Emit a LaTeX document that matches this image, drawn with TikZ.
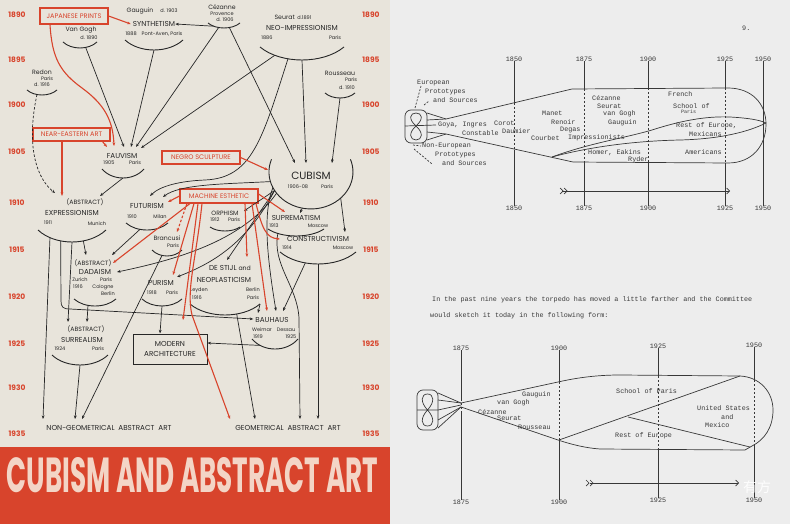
\documentclass[tikz,border=0pt]{standalone}
\usepackage{fontspec}
\usepackage{graphicx}
\setmainfont{Poppins}
\newfontfamily\typefont{Liberation Mono}
\newfontfamily\cjkfont{Noto Sans CJK SC}
\usetikzlibrary{arrows.meta}

\definecolor{paper}{HTML}{E8E4DB}
\definecolor{barrred}{HTML}{D8442C}
\definecolor{ink}{HTML}{262626}
\definecolor{sheet}{HTML}{EDEDED}
\definecolor{typeink}{HTML}{383838}
\definecolor{bannertext}{HTML}{F3D5C6}

\newcommand\fs[1]{\fontsize{#1}{#1}\selectfont}

\tikzset{
  year/.style={text=barrred, font=\fs{7.5}\bfseries, inner sep=0pt},
  mov/.style={text=ink, font=\fs{7.2}, inner sep=0pt},
  small/.style={text=ink, font=\fs{6.2}, inner sep=0pt},
  artist/.style={text=ink, font=\fs{6.2}, inner sep=0pt},
  note/.style={text=ink, font=\fs{5}, inner sep=0pt},
  source/.style={draw=barrred, line width=1.1pt, text=barrred, font=\fs{6.6}, inner sep=0pt},
  bowlline/.style={ink, line width=0.9pt},
  link/.style={ink, line width=0.7pt, ->},
  redlink/.style={barrred, line width=1.1pt, ->},
  tw/.style={text=typeink, font=\typefont\fs{6.75}, inner sep=0pt, anchor=west},
  twc/.style={tw, anchor=center},
  hull/.style={typeink, line width=0.7pt},
  yearline/.style={typeink, line width=0.6pt},
  inside/.style={yearline, dash pattern=on 2pt off 2pt},
}

% bowl under a movement: name, centre x, top y, half width, depth
\newcommand\bowl[5]{%
  \draw[bowlline] (#2-#4,#3) .. controls (#2-#4*0.5,#3+#5*1.333) and (#2+#4*0.5,#3+#5*1.333) .. (#2+#4,#3)
    coordinate[pos=0.2] (#1-1) coordinate[pos=0.35] (#1-2) coordinate[pos=0.5] (#1-3)
    coordinate[pos=0.65] (#1-4) coordinate[pos=0.8] (#1-5);
  \coordinate (#1-l) at (#2-#4,#3);
  \coordinate (#1-r) at (#2+#4,#3);
}

\begin{document}
\begin{tikzpicture}[x=1pt,y=-1pt,>={Stealth[length=3.6pt,width=2.8pt]}]
\useasboundingbox (0,0) rectangle (790,524);
\fill[paper] (0,0) rectangle (390,447);
\fill[barrred] (0,447) rectangle (390,524);
\fill[sheet] (390,0) rectangle (790,524);
\node[inner sep=0pt, text=bannertext] (banner) at (192.5,475.5)
  {\resizebox{371pt}{35pt}{\bfseries CUBISM AND ABSTRACT ART}};

% years
\foreach \yr/\yy in {1890/15,1895/60,1900/105,1905/152,1910/203,1915/250,1920/297,1925/344,1930/388,1935/434}{
  \node[year] (yl\yr) at (17,\yy) {\yr};
  \node[year] (yr\yr) at (371,\yy) {\yr};
}

% sources
\node[source, minimum width=68pt, minimum height=16pt] (jap) at (74,16) {JAPANESE PRINTS};
\node[source, minimum width=77pt, minimum height=13pt] (near) at (71.5,134.5) {NEAR-EASTERN ART};
\node[source, minimum width=78pt, minimum height=13pt] (negro) at (201,157.5) {NEGRO SCULPTURE};
\node[source, minimum width=78pt, minimum height=14pt] (mach) at (219,196) {MACHINE ESTHETIC};

% 1890s
\node[artist] (gau) at (140,11) {Gauguin};
\node[note] (gaud) at (169,11) {d. 1903};
\node[mov] (syn) at (154,24) {SYNTHETISM};
\node[note] (synd) at (154,34) {1888\quad Pont-Aven, Paris};
\bowl{syn}{154}{40}{29}{10}
\node[artist] (vg) at (81,30) {Van Gogh};
\node[note] (vgd) at (89,38) {d. 1890};
\bowl{vg}{80}{42}{17}{6}
\node[artist] (cez) at (222,7) {Cézanne};
\node[note] (cezp) at (222,14) {Provence};
\node[note] (cezd) at (225,19.5) {d. 1906};
\bowl{cez}{224}{23}{16}{5}
\node[artist] (seu) at (293,17) {Seurat \,{\fs{5}d.1891}};
\node[mov] (neo) at (302,28) {NEO-IMPRESSIONISM};
\node[note] (neod) at (267,38) {1886};
\node[note] (neop) at (335,38) {Paris};
\bowl{neo}{302}{47}{42}{13}
\node[artist] (rou) at (340,73) {Rousseau};
\node[note] (roup) at (351,80) {Paris};
\node[note] (roud) at (347,88) {d. 1910};
\bowl{rou}{340}{93}{15}{5}
\node[artist] (red) at (42,72) {Redon};
\node[note] (redp) at (47,79) {Paris};
\node[note] (redd) at (42,85) {d. 1916};
\bowl{red}{42}{90}{15}{5}

% 1905-1915
\node[mov] (fauv) at (122,156) {FAUVISM};
\node[note] (fauvd) at (109,163) {1905};
\node[note] (fauvp) at (135,163) {Paris};
\bowl{fauv}{123}{169}{21}{9}
\node[mov, font=\fs{10.5}] (cub) at (311,176) {CUBISM};
\node[note] (cubd) at (298,187) {1906-08};
\node[note] (cubp) at (327,187) {Paris};
\draw[bowlline] (271.5,159.3) arc[start angle=200, end angle=-20, x radius=42, y radius=37];
\coordinate (cub-a) at (270.4,181.6);
\coordinate (cub-b) at (272.9,187.6);
\coordinate (cub-c) at (274.6,190.5);
\coordinate (cub-d) at (276.6,193.2);
\coordinate (cub-e) at (302.3,208.2);
\coordinate (cub-f) at (340.7,198.2);
\node[mov] (fut) at (147,206) {FUTURISM};
\node[note] (futd) at (132,217) {1910};
\node[note] (futp) at (160,217) {Milan};
\bowl{fut}{147}{223}{21}{7}
\node[small] (abs1) at (85,202) {(ABSTRACT)};
\node[mov] (expr) at (72,213) {EXPRESSIONISM};
\node[note] (exprd) at (48,223) {1911};
\node[note] (exprp) at (97,224) {Munich};
\bowl{expr}{72}{230}{34}{12}
\node[small] (orph) at (225,213) {ORPHISM};
\node[note] (orphd) at (215,220) {1912};
\node[note] (orphp) at (234,220) {Paris};
\bowl{orph}{225}{227}{15}{4}
\node[mov] (sup) at (296,218) {SUPREMATISM};
\node[note] (supd) at (274,226) {1913};
\node[note] (supp) at (318,226) {Moscow};
\bowl{sup}{296}{229}{28}{7}
\node[mov] (con) at (318,239) {CONSTRUCTIVISM};
\node[note] (cond) at (287,248) {1914};
\node[note] (conp) at (343,248) {Moscow};
\bowl{con}{318}{252}{38}{12}
\node[artist] (bran) at (167,238) {Brancusi};
\node[note] (branp) at (173,246) {Paris};
\bowl{bran}{167}{250}{15}{6}

% 1915-1925
\node[small] (abs2) at (93,263) {(ABSTRACT)};
\node[mov] (dada) at (95,272) {DADAISM};
\node[note] (dadaz) at (80,280) {Zurich};
\node[note] (dadap) at (106,280) {Paris};
\node[note] (dadad) at (78,287) {1916};
\node[note] (dadac) at (103,287) {Cologne};
\node[note] (dadab) at (108,294) {Berlin};
\bowl{dada}{95}{299}{21}{7}
\node[mov] (pur) at (161,283) {PURISM};
\node[note] (purd) at (152,293) {1918};
\node[note] (purp) at (172,293) {Paris};
\bowl{pur}{162}{299}{20}{7}
\node[mov] (dsa) at (230,268) {DE STIJL {\fs{6.2}and}};
\node[mov] (ds) at (224,280) {NEOPLASTICISM};
\node[note] (dsl) at (199,290) {Leyden};
\node[note] (dsd) at (197,298) {1916};
\node[note] (dsb) at (253,290) {Berlin};
\node[note] (dsp) at (253,298) {Paris};
\bowl{ds}{225}{304}{35}{11}
\node[mov] (bau) at (272,320) {BAUHAUS};
\node[note] (bauw) at (262,330) {Weimar};
\node[note] (baud) at (286,330) {Dessau};
\node[note] (bau1) at (258,337) {1919};
\node[note] (bau2) at (291,337) {1925};
\bowl{bau}{275}{339}{23}{10}
\node[draw=ink, line width=1pt, minimum width=74pt, minimum height=30pt, align=center,
  text=ink, font=\fs{7.2}, inner sep=0pt] (mod) at (170,349) {MODERN\\[2pt]ARCHITECTURE};
\node[small] (abs3) at (86,329) {(ABSTRACT)};
\node[mov] (sur) at (82,340) {SURREALISM};
\node[note] (surd) at (60,349) {1924};
\node[note] (surp) at (98,349) {Paris};
\bowl{sur}{80}{355}{28}{10}
\node[mov] (ng) at (109,428) {NON-GEOMETRICAL\ \ ABSTRACT\ \ ART};
\node[mov] (ga) at (288,428) {GEOMETRICAL\ \ ABSTRACT\ \ ART};

% black influences
\draw[link] (cez-1) -- (syn.east);
\draw[link] (vg-4) -- ([shift={(2,-9)}]fauv.center);
\draw[link] (syn-3) -- ([shift={(9,-9)}]fauv.center);
\draw[link] (cez-2) -- ([shift={(14,-9)}]fauv.center);
\draw[link] (neo-1) -- ([shift={(19,-8)}]fauv.center);
\draw[link] (cez-4) -- ([shift={(-16,-13)}]cub.center);
\draw[link] (neo-3) -- ([shift={(-5,-13)}]cub.center);
\draw[link] (rou-3) -- ([shift={(21,-13)}]cub.center);
\draw[link] (neo-2) .. controls (262,140) and (252,178) .. (205,180) .. controls (180,181) and (160,186) .. ([shift={(3,-10)}]fut.center);
\draw[link] (cub-a) .. controls (225,184) and (180,184) .. ([shift={(16,-9)}]fut.center);
\draw[link, dash pattern=on 2.5pt off 1.8pt] (red-2) .. controls (26,145) and (36,178) .. ([shift={(-30,-9)}]abs1.center);
\draw[link] (fauv-3) -- ([shift={(15,-6)}]abs1.center);
\draw[link] (cub-c) -- ([shift={(19,-2)}]orph.center);
\draw[link] (cub-e) -- ([shift={(4,-5)}]sup.center);
\draw[link] (cub-f) -- ([shift={(27,-7)}]con.center);
\draw[link] (cub-d) .. controls (245,238) and (185,258) .. ([shift={(22,0)}]dada.center);
\draw[link] (cub-c) .. controls (245,248) and (205,266) .. ([shift={(16,-6)}]pur.center);
\draw[link] (cub-c) -- ([shift={(-3,-8)}]dsa.center);
\draw[link] (cub-b) .. controls (262,215) and (268,262) .. ([shift={(4,-9)}]bau.center);
\draw[link] (fut-2) -- ([shift={(19,-8)}]abs2.center);
\draw[link] (expr-4) -- ([shift={(-7,-8)}]abs2.center);
\draw[link] (expr-3) -- ([shift={(-18,-7)}]abs3.center);
\draw[link] (expr-2) -- (61,301) .. controls (61,307) and (63,309) .. (70,309) -- ([shift={(-2,-1)}]bau.west);
\draw[link] (expr-1) -- ([shift={(-66,-9)}]ng.center);
\draw[link] (dada-2) -- ([shift={(1,-7)}]abs3.center);
\draw[link] (sur-3) -- ([shift={(-34,-9)}]ng.center);
\draw[link] (bran-2) -- ([shift={(-27,-9)}]ng.center);
\draw[link] (pur-3) -- ([xshift=-10pt]mod.north);
\draw[link] (ds-r) -- ([shift={(-14,-7)}]bau.center);
\draw[link] (ds-4) -- ([shift={(-33,-9)}]ga.center);
\draw[link] (bau-1) -- ([yshift=6pt]mod.east);
\draw[link] (con-2) -- ([shift={(11,-9)}]bau.center);
\draw[link] (con-3) -- ([shift={(30,-9)}]ga.center);
\draw[link] (sup-1) .. controls (272,265) and (297,285) .. (299,318) -- ([shift={(12,-9)}]ga.center);

% red influences
\draw[redlink] (jap.east) -- ([xshift=-2pt]syn.west);
\draw[redlink] ([xshift=-24pt]jap.south) .. controls (52,58) and (60,72) .. (82,88) .. controls (104,104) and (113,120) .. ([shift={(-8,-10)}]fauv.center);
\draw[redlink] ([xshift=-9.5pt]near.south) -- ([shift={(-23,-6)}]abs1.center);
\draw[redlink] ([xshift=31pt]near.south) -- ([shift={(-15,-9)}]fauv.center);
\draw[redlink] (negro.east) -- ([shift={(-43,-6)}]cub.center);
\draw[redlink] (mach.west) -- ([shift={(21,-4)}]fut.center);
\draw[redlink, dash pattern=on 2.5pt off 1.8pt] ([xshift=-32pt]mach.south) -- ([shift={(10,-6)}]bran.center);
\draw[redlink] ([xshift=-29pt]mach.south) -- ([shift={(20,0)}]abs2.center);
\draw[redlink] ([xshift=-25pt]mach.south) -- ([shift={(12,-8)}]pur.center);
\draw[redlink] ([xshift=-21pt]mach.south) -- ([shift={(13,-29)}]mod.center);
\draw[redlink] ([xshift=-17pt]mach.south) .. controls (196,260) and (186,290) .. (192,315) -- ([shift={(-58,-9)}]ga.center);
\draw[redlink] ([xshift=26pt]mach.south) -- ([shift={(17,-11)}]dsa.center);
\draw[redlink] ([xshift=33pt]mach.south) -- ([shift={(-5,-9)}]bau.center);
\draw[redlink] ([yshift=2pt]mach.east) -- ([shift={(-11,-6)}]sup.center);
\draw[redlink] ([xshift=37pt]mach.south) .. controls (262,228) and (266,238) .. ([shift={(-38,0)}]con.center);

% ---- typed page: first torpedo ----
\node[tw] (pg) at (742,28) {9.};
\foreach \yx/\yv in {514/1850,584/1875,648/1900,725/1925,763/1950}{
  \node[twc] (tt\yv) at (\yx,59) {\yv};
  \node[twc] (tb\yv) at (\yx,208) {\yv};
}
\foreach \yx/\yv/\ya/\yb in {514/1850/103/150,584/1875/89/162,648/1900/88/163,725/1925/88/163}{
  \draw[yearline] (tt\yv.south) -- (\yx,\ya) (\yx,\yb) -- (tb\yv.north);
  \draw[inside] (\yx,\ya) -- (\yx,\yb);
}
\draw[yearline] (tt1950.south) -- (tb1950.north);
\draw[hull,rounded corners=6pt] (405,110) rectangle (427,143);
\draw[hull] (416,126) .. controls (408,119) and (410,113) .. (416,113) .. controls (422,113) and (424,119) .. (416,126)
  .. controls (408,133) and (410,140) .. (416,140) .. controls (422,140) and (424,133) .. (416,126);
\draw[hull] (405,126) -- (436,125);
\draw[hull] (427,113) -- (446,119) -- (572,89) -- (728,88) .. controls (752,88) and (766,104) .. (766,124)
  .. controls (766,146) and (752,163) .. (728,163) -- (573,162) -- (446,134) -- (427,140);
\draw[hull] (427,120) -- (446,119) (427,132) -- (446,134);
\draw[hull] (552,157) .. controls (590,143) and (625,138) .. (652,130) .. controls (680,121) and (705,116) .. (730,117) .. controls (748,118) and (760,120) .. (766,123);
\draw[hull] (552,157) .. controls (585,148) and (630,141) .. (680,140) .. controls (720,139) and (748,132) .. (766,123);
\draw[hull, dash pattern=on 2pt off 1.5pt] (415,108) -- (421,86) (424,105) -- (429,101);
\draw[hull, dash pattern=on 2pt off 1.5pt] (413,145) -- (421,146) (414,149) -- (432,164);
\draw[hull,-{Straight Barb[length=3pt,width=6pt]}] (562,191) -- (730,191);
\draw[hull] (560,188) -- (563,191) -- (560,194) (564,188) -- (567,191) -- (564,194);
\node[tw] (t1) at (417,83) {European};
\node[tw] (t2) at (425,92) {Prototypes};
\node[tw] (t3) at (433,100) {and Sources};
\node[tw] (t4) at (422,146) {Non-European};
\node[tw] (t5) at (435,155) {Prototypes};
\node[tw] (t6) at (442,163) {and Sources};
\node[tw] (t7) at (438,125) {Goya, Ingres};
\node[tw] (t8) at (462,133) {Constable};
\node[tw] (t9) at (494,123) {Corot};
\node[tw] (t10) at (502,131) {Daumier};
\node[tw] (t11) at (542,113) {Manet};
\node[tw] (t12) at (551,122) {Renoir};
\node[tw] (t13) at (560,130) {Degas};
\node[tw] (t14) at (531,138) {Courbet};
\node[tw] (t15) at (568,138) {Impressionists};
\node[tw] (t16) at (588,153) {Homer, Eakins};
\node[tw] (t17) at (628,160) {Ryder};
\node[tw] (t18) at (592,98) {Cézanne};
\node[tw] (t19) at (597,106) {Seurat};
\node[tw] (t20) at (603,114) {van Gogh};
\node[tw] (t21) at (608,123) {Gauguin};
\node[tw] (t22) at (668,94) {French};
\node[tw] (t23) at (673,106) {School of};
\node[tw, font=\typefont\fs{5}] (t24) at (681,112) {Paris};
\node[tw] (t25) at (676,126) {Rest of Europe,};
\node[tw] (t26) at (689,134) {Mexicans};
\node[tw] (t27) at (685,152) {Americans};

\node[tw] (p1) at (432,300) {In the past nine years the torpedo has moved a little farther and the Committee};
\node[tw] (p2) at (430,316) {would sketch it today in the following form:};

% ---- typed page: second torpedo ----
\foreach \yx/\yv/\ya/\yb in {461/1875/348/502,559/1900/348/502,658/1925/346/500,754/1950/345/500}{
  \node[twc] (bt\yv) at (\yx,\ya) {\yv};
  \node[twc] (bb\yv) at (\yx,\yb) {\yv};
}
\foreach \yx/\yv/\ya/\yb in {461/1875/399/411,559/1900/382/440,658/1925/376/449,754/1950/380/445}{
  \draw[yearline] (bt\yv.south) -- (\yx,\ya) (\yx,\yb) -- (bb\yv.north);
  \draw[inside] (\yx,\ya) -- (\yx,\yb);
}
\draw[hull,rounded corners=6pt] (417,390) rectangle (438,430);
\draw[hull] (427.5,410) .. controls (420,402) and (421,394) .. (427.5,394) .. controls (434,394) and (435,402) .. (427.5,410)
  .. controls (420,418) and (421,426) .. (427.5,426) .. controls (434,426) and (435,418) .. (427.5,410);
\draw[hull] (417,410) -- (438,410) -- (461,405);
\draw[hull] (438,393) -- (461,403) -- (558,382) .. controls (580,377) and (600,375) .. (620,375) -- (740,376)
  .. controls (760,377) and (773,392) .. (773,410) .. controls (773,428) and (764,440) .. (752,446) -- (745,450)
  -- (600,449) .. controls (585,448) and (570,444) .. (558,440) -- (461,407) -- (438,428);
\draw[hull] (438,400) -- (461,403) (438,420) -- (461,407);
\draw[hull] (559,440) -- (740,376);
\draw[hull] (628,417) -- (750,447);
\draw[hull,-{Straight Barb[length=3pt,width=6pt]}] (590,483) -- (739,483);
\draw[hull] (586,480) -- (589,483) -- (586,486) (590,480) -- (593,483) -- (590,486);
\node[tw] (s1) at (522,395) {Gauguin};
\node[tw] (s2) at (497,403) {van Gogh};
\node[tw] (s3) at (478,412) {Cézanne};
\node[tw] (s4) at (497,418) {Seurat};
\node[tw] (s5) at (518,427) {Rousseau};
\node[tw] (s6) at (616,391) {School of Paris};
\node[tw] (s7) at (615,436) {Rest of Europe};
\node[tw] (s8) at (697,408) {United States};
\node[tw] (s9) at (721,417) {and};
\node[tw] (s10) at (705,425) {Mexico};

\node[text=white, font=\cjkfont\fs{14}, inner sep=0pt, opacity=0.9] (mark) at (757,487) {有方};
\end{tikzpicture}
\end{document}
